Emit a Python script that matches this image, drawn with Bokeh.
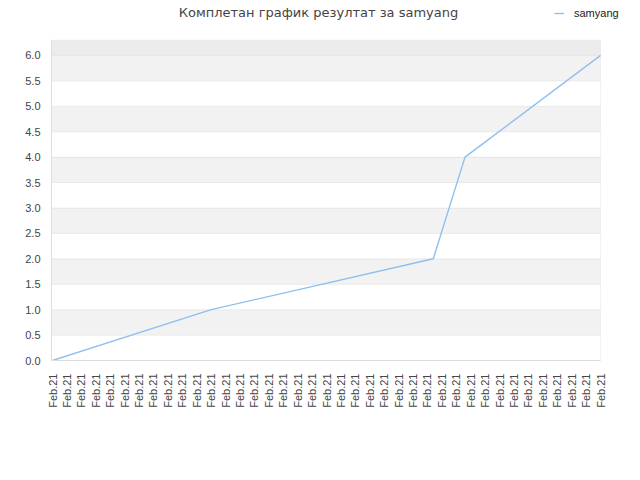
from bokeh.plotting import figure
from bokeh.models import Range1d, FixedTicker, BoxAnnotation, Label, CustomJSTickFormatter
from bokeh.embed import file_html
from bokeh.resources import INLINE

# breakpoints of the samyang line, x in tick-label units
x_pos = [0, 11, 26.4, 28.6, 38]
scores = [0.0, 1.0, 2.0, 4.0, 6.0]
tick_labels = ["Feb.21"] * 39
y_ticks = [0.0, 0.5, 1.0, 1.5, 2.0, 2.5, 3.0, 3.5, 4.0, 4.5, 5.0, 5.5, 6.0]
y_top = 6.3

# frame is stretched over the whole top of the page so the title and legend are not clipped
p = figure(width=624, height=464, output_backend="svg", toolbar_location=None,
           x_range=Range1d(-0.07, 39.66), y_range=Range1d(0, 7.08),
           min_border_left=51, min_border_right=0, min_border_top=0, min_border_bottom=104)
p.outline_line_color = None
p.background_fill_color = "white"
p.border_fill_color = "white"
p.xgrid.grid_line_color = None
p.ygrid.grid_line_color = None

# striped plot area with grid lines, bounded on the right by the last point
last = len(tick_labels) - 1
for i, lo in enumerate(y_ticks[:-1]):
    p.add_layout(BoxAnnotation(bottom=lo, top=y_ticks[i + 1], right=last,
                               fill_color="#f2f2f2" if i % 2 else "white", fill_alpha=1,
                               line_color="#d6d6d6", line_width=1, level="underlay"))
p.add_layout(BoxAnnotation(bottom=y_ticks[-1], top=y_top, right=last, fill_color="#ececec", fill_alpha=1,
                           line_color="#d6d6d6", line_width=1, level="underlay"))

p.line(x_pos, scores, line_color="#8fbff0", line_width=1.4, legend_label="samyang")

p.xaxis.ticker = FixedTicker(ticks=list(range(len(tick_labels))))
p.xaxis.major_label_overrides = {i: t for i, t in enumerate(tick_labels)}
p.xaxis.major_label_orientation = 1.5708
p.xaxis.bounds = (-0.07, last + 0.01)
p.yaxis.ticker = FixedTicker(ticks=y_ticks)
p.yaxis.formatter = CustomJSTickFormatter(code="return tick.toFixed(1);")
p.yaxis.bounds = (0, y_top)
for ax in (p.xaxis, p.yaxis):
    ax.axis_line_color = "#dddddd"
    ax.major_tick_line_color = None
    ax.minor_tick_line_color = None
    ax.major_tick_out = 0
    ax.minor_tick_out = 0
    ax.major_label_text_font = "Liberation Sans"
    ax.major_label_text_font_size = "11px"
    ax.major_label_text_color = "#444444"
p.yaxis.major_label_standoff = 11
p.xaxis.major_label_standoff = 13

p.add_layout(Label(x=267, y=348, x_units="screen", y_units="screen", text="Комплетан график резултат за samyang",
                   text_font="DejaVu Sans", text_font_size="13px", text_color="#444444",
                   text_align="center", text_baseline="middle"))

lg = p.legend[0]
lg.location = (503, 341)
lg.padding = 0
lg.margin = 0
lg.spacing = 0
lg.glyph_width = 10
lg.glyph_height = 12
lg.label_standoff = 10
lg.border_line_color = None
lg.background_fill_alpha = 0
lg.label_text_font = "Liberation Sans"
lg.label_text_font_size = "11px"
lg.label_text_color = "#222222"

open("out.html", "w").write(file_html(p, INLINE))
